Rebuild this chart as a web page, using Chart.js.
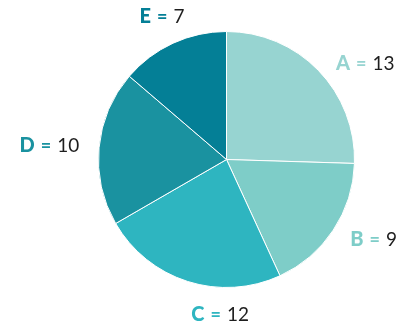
<!DOCTYPE html>
<html>
<head>
<meta charset="utf-8">
<script src="https://cdn.jsdelivr.net/npm/chart.js@4"></script>
<style>
  html, body { margin: 0; padding: 0; background: #fff; }
  #wrap { width: 405px; height: 327px; }
</style>
</head>
<body>
<div id="wrap"><canvas id="pie"></canvas></div>
<script>
// Slice categories, values and colours
const categories = ['A', 'B', 'C', 'D', 'E'];
const values = [13, 9, 12, 10, 7];
const sliceColors = ['#97D4D1', '#7ECDC8', '#2EB5C0', '#1A92A0', '#047F96'];

// Small angular nudges (degrees) for the outside labels so they sit clear of each other
const labelAngleShift = [5.6, -2.7, -15.6, 0, 2.5];

const outsideLabels = {
  id: 'outsideLabels',
  afterDatasetsDraw(chart, args, opts) {
    const ctx = chart.ctx;
    const meta = chart.getDatasetMeta(0);
    const ds = chart.data.datasets[0];
    const letterFont = '900 20px Lato, "Open Sans", sans-serif';
    const eqFont = 'bold 18px Lato, "Open Sans", sans-serif';
    const valFont = '19px Lato, "Open Sans", sans-serif';
    const capH = 14;
    meta.data.forEach((arc, i) => {
      const p = arc.getProps(['x', 'y', 'startAngle', 'endAngle', 'outerRadius'], true);
      const mid = (p.startAngle + p.endAngle) / 2 + (opts.shift[i] || 0) * Math.PI / 180;
      const cos = Math.cos(mid), sin = Math.sin(mid);
      const r = p.outerRadius + opts.gap;
      const ax = p.x + r * cos, ay = p.y + r * sin;

      const letter = chart.data.labels[i];
      const eq = '=';
      const val = String(ds.data[i]);
      const pad = 6;
      ctx.save();
      ctx.font = letterFont; const wL = ctx.measureText(letter).width;
      ctx.font = eqFont; const wE = ctx.measureText(eq).width;
      ctx.font = valFont; const wV = ctx.measureText(val).width;
      const W = wL + pad + wE + pad + wV;
      const cx = ax + cos * W / 2;
      const cy = ay + sin * capH / 2;
      let x = cx - W / 2;
      const base = cy + capH / 2;
      ctx.textBaseline = 'alphabetic';
      ctx.textAlign = 'left';
      ctx.fillStyle = ds.backgroundColor[i];
      ctx.font = letterFont; ctx.fillText(letter, x, base); x += wL + pad;
      ctx.font = eqFont; ctx.fillText(eq, x, base); x += wE + pad;
      ctx.fillStyle = '#1e1e1e';
      ctx.font = valFont; ctx.fillText(val, x, base);
      ctx.restore();
    });
  }
};

new Chart(document.getElementById('pie'), {
  type: 'pie',
  data: {
    labels: categories,
    datasets: [{
      data: values,
      backgroundColor: sliceColors,
      borderColor: '#ffffff',
      borderWidth: 1
    }]
  },
  options: {
    responsive: true,
    maintainAspectRatio: false,
    animation: false,
    layout: { padding: { top: 31, bottom: 39, left: 98, right: 50 } },
    plugins: {
      legend: { display: false },
      tooltip: { enabled: false },
      outsideLabels: { gap: 20, shift: labelAngleShift }
    }
  },
  plugins: [outsideLabels]
});
</script>
</body>
</html>
